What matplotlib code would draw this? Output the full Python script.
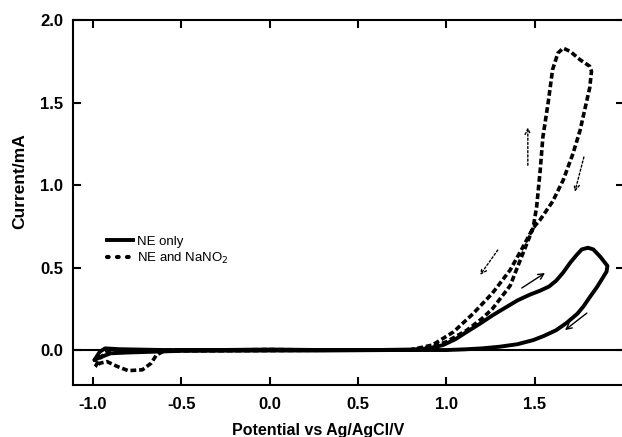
import matplotlib
matplotlib.use("Agg")
import matplotlib.pyplot as plt
from matplotlib.lines import Line2D

# NE only (solid) - one full sweep, forward then reverse
ne_x = [-0.99, -0.96, -0.93, -0.85, -0.6, -0.3, 0.0, 0.3, 0.6, 0.8, 0.9, 0.98,
        1.05, 1.115, 1.19, 1.26, 1.33, 1.40, 1.47, 1.53, 1.58, 1.62, 1.66, 1.70,
        1.735, 1.765, 1.80, 1.83, 1.87, 1.91, 1.905,
        1.885, 1.85, 1.81, 1.775, 1.74, 1.68, 1.62, 1.55, 1.49, 1.40, 1.30,
        1.2, 1.1, 1.0, 0.7, 0.3, 0.0, -0.5, -0.8, -0.9, -0.97, -0.99]
ne_y = [-0.06, -0.01, 0.01, 0.005, 0.0, 0.0, 0.003, 0.0, 0.0, 0.003, 0.01, 0.03,
        0.065, 0.11, 0.16, 0.21, 0.255, 0.30, 0.335, 0.36, 0.385, 0.42, 0.47, 0.53,
        0.575, 0.61, 0.62, 0.61, 0.565, 0.51, 0.475,
        0.44, 0.38, 0.32, 0.265, 0.22, 0.165, 0.12, 0.085, 0.06, 0.035, 0.02,
        0.01, 0.004, 0.0, 0.0, -0.003, -0.003, -0.005, -0.015, -0.02, -0.05, -0.06]

# NE and NaNO2 (dashed)
nn_x = [-0.985, -0.96, -0.93, -0.9, -0.6, -0.3, 0.0, 0.3, 0.6, 0.78, 0.85, 0.92,
        1.0, 1.115, 1.2, 1.26, 1.36, 1.43, 1.49, 1.51, 1.53, 1.545, 1.575, 1.60,
        1.63, 1.66, 1.70, 1.755, 1.81, 1.82, 1.81, 1.755, 1.715, 1.66, 1.60,
        1.53, 1.49, 1.43, 1.36, 1.26, 1.15, 1.04, 0.92, 0.79, 0.5, 0.0, -0.5,
        -0.6, -0.64, -0.67, -0.72, -0.80, -0.86, -0.92, -0.96, -0.985]
nn_y = [-0.10, -0.05, -0.02, 0.0, 0.0, 0.0, 0.003, 0.0, 0.0, 0.0, 0.005, 0.02,
        0.05, 0.12, 0.19, 0.25, 0.39, 0.58, 0.74, 0.87, 1.09, 1.29, 1.50, 1.70,
        1.80, 1.83, 1.81, 1.76, 1.72, 1.69, 1.59, 1.33, 1.19, 1.03, 0.90,
        0.79, 0.74, 0.62, 0.485, 0.345, 0.22, 0.11, 0.03, 0.0, 0.0, -0.003, -0.005,
        -0.008, -0.03, -0.08, -0.12, -0.125, -0.10, -0.07, -0.08, -0.10]

# scan direction arrows (start x, start y, end x, end y)
solid_arrows = [(1.426, 0.376, 1.557, 0.467), (1.794, 0.224, 1.67, 0.121)]
dotted_arrows = [(1.46, 1.12, 1.46, 1.35), (1.777, 1.17, 1.726, 0.96),
                 (1.29, 0.606, 1.19, 0.455)]

plt.rcParams['font.family'] = ['Liberation Sans', 'DejaVu Sans']

fig = plt.figure(figsize=(6.22, 4.37), dpi=100)
ax = fig.add_axes([0.117, 0.119, 0.886, 0.835])

ax.axhline(0, color='black', lw=1.5, zorder=1)
ax.plot(ne_x, ne_y, color='black', lw=2.8, solid_joinstyle='round',
        solid_capstyle='round', zorder=3)
ax.plot(nn_x, nn_y, color='black', lw=2.6, dashes=(1.6, 0.8),
        dash_capstyle='butt', dash_joinstyle='round', zorder=3)

for x0, y0, x1, y1 in solid_arrows:
    ax.annotate('', xy=(x1, y1), xytext=(x0, y0),
                arrowprops=dict(arrowstyle='->', color='black', lw=1.0,
                                shrinkA=0, shrinkB=0))
for x0, y0, x1, y1 in dotted_arrows:
    ax.annotate('', xy=(x1, y1), xytext=(x0, y0),
                arrowprops=dict(arrowstyle='->', color='black', lw=1.0,
                                linestyle=(0, (1.5, 1.5)), shrinkA=0, shrinkB=0))

ax.set_xlim(-1.113, 2.003)
ax.set_ylim(-0.212, 2.0)
ax.set_xticks([-1.0, -0.5, 0.0, 0.5, 1.0, 1.5])
ax.set_yticks([0.0, 0.5, 1.0, 1.5, 2.0])
ax.set_xticklabels(['-1.0', '-0.5', '0.0', '0.5', '1.0', '1.5'])
ax.set_yticklabels(['0.0', '0.5', '1.0', '1.5', '2.0'])
ax.tick_params(direction='in', length=6, width=1.5, top=True, right=True,
               labelsize=12)
ax.tick_params(axis='x', pad=9)
ax.tick_params(axis='y', pad=7)
for lab in ax.get_xticklabels() + ax.get_yticklabels():
    lab.set_fontweight('bold')
for sp in ax.spines.values():
    sp.set_linewidth(1.5)

ax.set_xlabel('Potential vs Ag/AgCl/V', fontsize=11.5, fontweight='bold')
ax.set_ylabel('Current/mA', fontsize=12.5, fontweight='bold')
ax.xaxis.set_label_coords(0.445, -0.105)
ax.yaxis.set_label_coords(-0.083, 0.56)

handles = [Line2D([], [], color='black', lw=2.8),
           Line2D([], [], color='black', lw=3.0, dashes=(0.4, 2.0),
                  dash_capstyle='round')]
ax.legend(handles, ['NE only', 'NE and NaNO$_2$'], loc='center left',
          bbox_to_anchor=(0.062, 0.368), frameon=False, fontsize=9.5,
          handlelength=2.0, handletextpad=0.3, labelspacing=0.2,
          borderpad=0, borderaxespad=0)

fig.savefig('out.png', dpi=100)
